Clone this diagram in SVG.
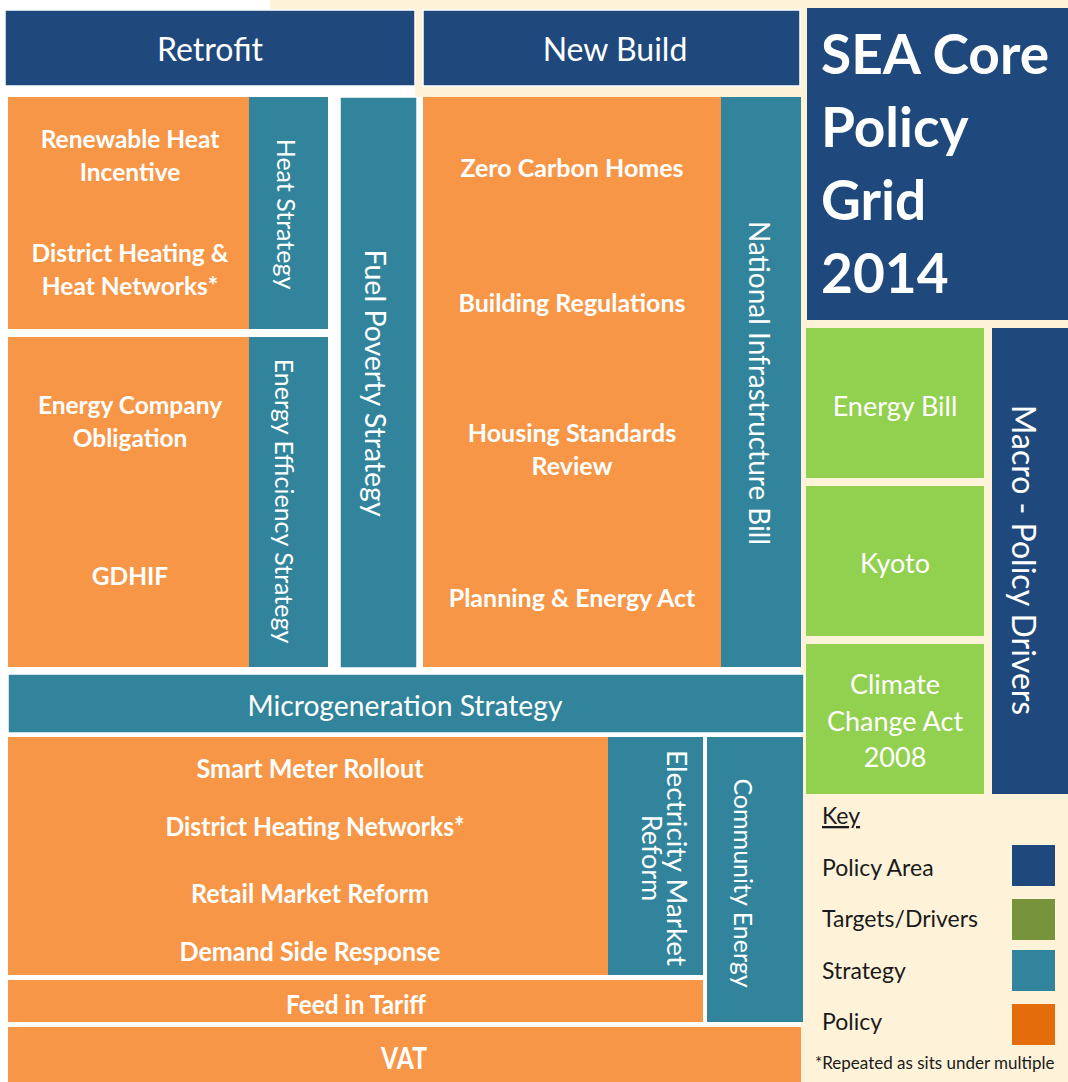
<svg xmlns="http://www.w3.org/2000/svg" width="1068" height="1082" viewBox="0 0 1068 1082">
<style>
.blue{fill:#1F497D}
.teal{fill:#31849B}
.orng{fill:#F79646}
.grn{fill:#92D050}
.bdr{stroke:#FFFFFF;stroke-width:1.5}
text{font-family:Lato,"Open Sans","Liberation Sans",sans-serif;fill:#FFFFFF;text-anchor:middle;dominant-baseline:central}
.hd{font-size:32px}
.pol{font-size:24.5px;font-weight:bold}
.nb{font-size:25px;font-weight:bold}
.pc{font-size:26px;font-weight:bold}
.st{font-size:25px}
.gr{font-size:27px}
.key{font-size:23px;fill:#1A1A1A;text-anchor:start;dominant-baseline:alphabetic}
</style>
<rect x="0" y="0" width="1068" height="1082" fill="#FFFFFF"/>
<rect x="270" y="0" width="798" height="10" fill="#FEF3D9"/>
<rect x="415" y="0" width="392" height="97" fill="#FEF3D9"/>
<rect x="801" y="0" width="267" height="1082" fill="#FEF3D9"/>

<g id="retrofit"><rect class="blue bdr" x="5" y="10" width="410" height="76"/><text class="hd" x="210" y="48">Retrofit</text></g>
<g id="newbuild"><rect class="blue bdr" x="423" y="10" width="377" height="76"/><text class="hd" x="615" y="48">New Build</text></g>
<g id="title"><rect class="blue" x="807" y="8" width="261" height="312"/>
<text style="font-size:55px;font-weight:bold;text-anchor:start;dominant-baseline:alphabetic" x="821" y="74">SEA Core</text>
<text style="font-size:55px;font-weight:bold;text-anchor:start;dominant-baseline:alphabetic" x="821" y="147">Policy</text>
<text style="font-size:55px;font-weight:bold;text-anchor:start;dominant-baseline:alphabetic" x="821" y="220">Grid</text>
<text style="font-size:55px;font-weight:bold;text-anchor:start;dominant-baseline:alphabetic" x="821" y="293">2014</text></g>

<g id="heat-policies"><rect class="orng" x="8" y="97" width="241" height="232"/>
<text class="pol" x="130" y="138">Renewable Heat</text><text class="pol" x="130" y="171">Incentive</text>
<text class="pol" x="130" y="252">District Heating &amp;</text><text class="pol" x="130" y="285">Heat Networks*</text></g>
<g id="heat-strategy"><rect class="teal" x="249" y="97" width="79" height="232"/>
<text class="st" transform="translate(287,214) rotate(90)">Heat Strategy</text></g>

<g id="eco-policies"><rect class="orng" x="8" y="337" width="241" height="330"/>
<text class="pol" x="130" y="404">Energy Company</text><text class="pol" x="130" y="437">Obligation</text>
<text class="pol" x="130" y="575">GDHIF</text></g>
<g id="ee-strategy"><rect class="teal" x="249" y="337" width="79" height="330"/>
<text class="st" transform="translate(285,501) rotate(90)">Energy Efficiency Strategy</text></g>

<g id="fuel-poverty"><rect class="teal bdr" x="340" y="97" width="77" height="571"/>
<text style="font-size:28.5px" transform="translate(376,383) rotate(90)">Fuel Poverty Strategy</text></g>

<g id="newbuild-policies"><rect class="orng" x="423" y="97" width="298" height="570"/>
<text class="nb" x="572" y="167">Zero Carbon Homes</text>
<text class="nb" x="572" y="302">Building Regulations</text>
<text class="nb" x="572" y="432">Housing Standards</text><text class="nb" x="572" y="465">Review</text>
<text class="nb" x="572" y="597">Planning &amp; Energy Act</text></g>
<g id="nib"><rect class="teal" x="721" y="97" width="80" height="570"/>
<text style="font-size:28px" transform="translate(760,383) rotate(90)">National Infrastructure Bill</text></g>

<g id="energy-bill"><rect class="grn" x="806" y="328" width="178" height="150"/><text class="gr" x="895" y="405">Energy Bill</text></g>
<g id="kyoto"><rect class="grn" x="806" y="486" width="178" height="150"/><text class="gr" x="895" y="562">Kyoto</text></g>
<g id="cca"><rect class="grn" x="806" y="644" width="178" height="150"/>
<text class="gr" x="895" y="683">Climate</text><text class="gr" x="895" y="720">Change Act</text><text class="gr" x="895" y="756">2008</text></g>
<g id="macro"><rect class="blue" x="992" y="328" width="76" height="466"/>
<text style="font-size:32px" transform="translate(1024,560) rotate(90)">Macro - Policy Drivers</text></g>

<g id="microgen"><rect class="teal bdr" x="8" y="674" width="796" height="59"/>
<text style="font-size:28px" x="405" y="705" textLength="315" lengthAdjust="spacingAndGlyphs">Microgeneration Strategy</text></g>

<g id="market-policies"><rect class="orng" x="8" y="737" width="600" height="238"/>
<text class="pc" x="310" y="768" textLength="227" lengthAdjust="spacingAndGlyphs">Smart Meter Rollout</text>
<text class="pc" x="315" y="826" textLength="299" lengthAdjust="spacingAndGlyphs">District Heating Networks*</text>
<text class="pc" x="310" y="893" textLength="238" lengthAdjust="spacingAndGlyphs">Retail Market Reform</text>
<text class="pc" x="310" y="951" textLength="261" lengthAdjust="spacingAndGlyphs">Demand Side Response</text></g>
<g id="emr"><rect class="teal" x="608" y="737" width="95" height="238"/>
<text class="st" style="font-size:27px" transform="translate(677,858) rotate(90)" textLength="216" lengthAdjust="spacingAndGlyphs">Electricity Market</text>
<text class="st" style="font-size:27px" transform="translate(652,858) rotate(90)">Reform</text></g>
<g id="community"><rect class="teal" x="707" y="737" width="96" height="285"/>
<text class="st" transform="translate(744,883) rotate(90)">Community Energy</text></g>
<g id="fit"><rect class="orng" x="8" y="980" width="695" height="42"/><text class="pc" x="356" y="1004" textLength="140" lengthAdjust="spacingAndGlyphs">Feed in Tariff</text></g>
<g id="vat"><rect class="orng" x="8" y="1027" width="793" height="60"/><text style="font-size:30px;font-weight:bold" x="404" y="1057" textLength="46" lengthAdjust="spacingAndGlyphs">VAT</text></g>

<g id="key">
<text class="key" x="822" y="824" text-decoration="underline">Key</text>
<text class="key" x="822" y="876">Policy Area</text><rect x="1012" y="845" width="43" height="41" fill="#1F497D"/>
<text class="key" x="822" y="927">Targets/Drivers</text><rect x="1012" y="899" width="43" height="41" fill="#77933C"/>
<text class="key" x="822" y="979">Strategy</text><rect x="1012" y="950" width="43" height="41" fill="#31849B"/>
<text class="key" x="822" y="1030">Policy</text><rect x="1012" y="1004" width="43" height="41" fill="#E46C0A"/>
<text class="key" style="font-size:17px" x="815" y="1069">*Repeated as sits under multiple</text>
</g>
<g id="connectors"/>
</svg>
